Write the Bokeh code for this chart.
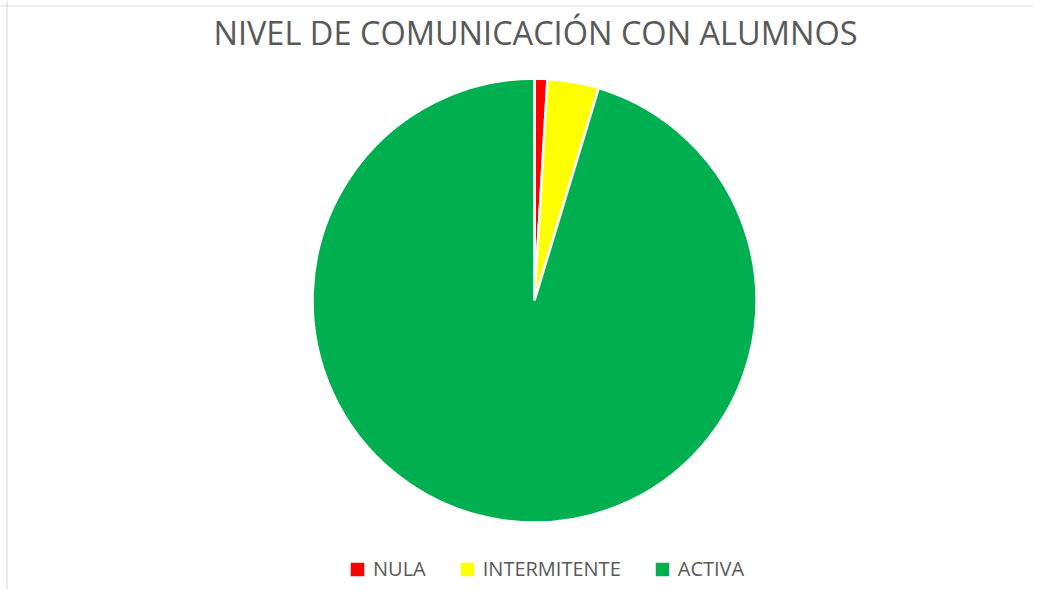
import math
from bokeh.plotting import figure
from bokeh.models import ColumnDataSource, Range1d, Legend, LegendItem, Span
from bokeh.core.properties import value
from bokeh.embed import file_html
from bokeh.resources import INLINE

title_text = "NIVEL DE COMUNICACIÓN CON ALUMNOS"
categories = ["NULA", "INTERMITENTE", "ACTIVA"]
counts = [1, 4, 102]
colors = ["#FF0000", "#FFFF00", "#00B050"]

W, H = 1033, 589
total = float(sum(counts))
starts, ends = [], []
cum = 0.0
for c in counts:
    starts.append(math.pi / 2 - 2 * math.pi * cum / total)
    cum += c
    ends.append(math.pi / 2 - 2 * math.pi * cum / total)

src = ColumnDataSource(dict(
    cat=categories, val=counts, color=colors,
    start=starts, end=ends,
    x=[534] * len(counts), y=[300] * len(counts),
))

p = figure(width=W, height=H, output_backend="svg", toolbar_location=None,
           x_range=Range1d(0, W), y_range=Range1d(H, 0),
           min_border=0, border_fill_color="white", background_fill_color="white")
p.axis.visible = False
p.grid.visible = False
p.outline_line_color = None

r = p.wedge(x="x", y="y", radius=222, radius_units="screen",
            start_angle="start", end_angle="end", direction="clock",
            fill_color="color", line_color="white", line_width=2.5, source=src)

p.text(x=[535], y=[32], text=[title_text], text_align="center",
       text_baseline="alphabetic", text_font=value("Open Sans"),
       text_font_size="32.5px", text_color="#595959")

p.add_layout(Span(location=6.5, dimension="height", line_color="#d9d9d9", line_width=1))
p.add_layout(Span(location=5.5, dimension="width", line_color="#d9d9d9", line_width=1))

items = [LegendItem(label=c, renderers=[r], index=i) for i, c in enumerate(categories)]
legend = Legend(items=items, orientation="horizontal", location=(347, 7),
                glyph_width=20, glyph_height=20, label_standoff=6, spacing=31,
                padding=0, margin=0, border_line_color=None, background_fill_alpha=0,
                label_text_font="Open Sans", label_text_font_size="20px",
                label_text_color="#595959")
p.add_layout(legend, "center")

open("out.html", "w").write(file_html(p, INLINE))
